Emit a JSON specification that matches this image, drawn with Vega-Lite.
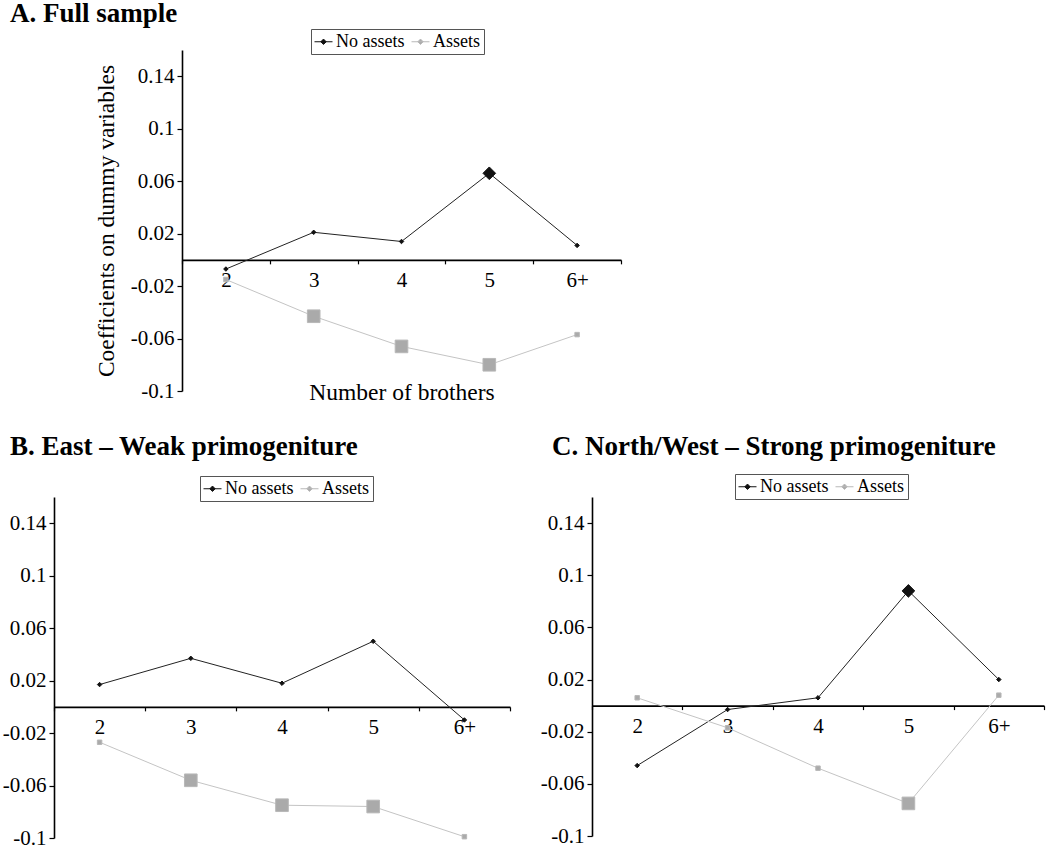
{
  "$schema": "https://vega.github.io/schema/vega-lite/v6.json",
  "autosize": {"type": "none"},
  "padding": {"left": 54, "top": 50, "right": 996, "bottom": 795},
  "background": "white",
  "datasets": {
    "d": [
      {"panel": "A", "series": "No assets", "brothers": "2", "value": -0.007, "sig": "no"},
      {"panel": "A", "series": "No assets", "brothers": "3", "value": 0.021, "sig": "no"},
      {"panel": "A", "series": "No assets", "brothers": "4", "value": 0.014, "sig": "no"},
      {"panel": "A", "series": "No assets", "brothers": "5", "value": 0.066, "sig": "yes"},
      {"panel": "A", "series": "No assets", "brothers": "6+", "value": 0.011, "sig": "no"},
      {"panel": "A", "series": "Assets", "brothers": "2", "value": -0.015, "sig": "no"},
      {"panel": "A", "series": "Assets", "brothers": "3", "value": -0.043, "sig": "yes"},
      {"panel": "A", "series": "Assets", "brothers": "4", "value": -0.066, "sig": "yes"},
      {"panel": "A", "series": "Assets", "brothers": "5", "value": -0.080, "sig": "yes"},
      {"panel": "A", "series": "Assets", "brothers": "6+", "value": -0.057, "sig": "no"},
      {"panel": "B", "series": "No assets", "brothers": "2", "value": 0.017, "sig": "no"},
      {"panel": "B", "series": "No assets", "brothers": "3", "value": 0.037, "sig": "no"},
      {"panel": "B", "series": "No assets", "brothers": "4", "value": 0.018, "sig": "no"},
      {"panel": "B", "series": "No assets", "brothers": "5", "value": 0.050, "sig": "no"},
      {"panel": "B", "series": "No assets", "brothers": "6+", "value": -0.010, "sig": "no"},
      {"panel": "B", "series": "Assets", "brothers": "2", "value": -0.027, "sig": "no"},
      {"panel": "B", "series": "Assets", "brothers": "3", "value": -0.056, "sig": "yes"},
      {"panel": "B", "series": "Assets", "brothers": "4", "value": -0.075, "sig": "yes"},
      {"panel": "B", "series": "Assets", "brothers": "5", "value": -0.076, "sig": "yes"},
      {"panel": "B", "series": "Assets", "brothers": "6+", "value": -0.099, "sig": "no"},
      {"panel": "C", "series": "No assets", "brothers": "2", "value": -0.046, "sig": "no"},
      {"panel": "C", "series": "No assets", "brothers": "3", "value": -0.003, "sig": "no"},
      {"panel": "C", "series": "No assets", "brothers": "4", "value": 0.006, "sig": "no"},
      {"panel": "C", "series": "No assets", "brothers": "5", "value": 0.088, "sig": "yes"},
      {"panel": "C", "series": "No assets", "brothers": "6+", "value": 0.020, "sig": "no"},
      {"panel": "C", "series": "Assets", "brothers": "2", "value": 0.006, "sig": "no"},
      {"panel": "C", "series": "Assets", "brothers": "3", "value": -0.017, "sig": "no"},
      {"panel": "C", "series": "Assets", "brothers": "4", "value": -0.048, "sig": "no"},
      {"panel": "C", "series": "Assets", "brothers": "5", "value": -0.075, "sig": "yes"},
      {"panel": "C", "series": "Assets", "brothers": "6+", "value": 0.008, "sig": "no"}
    ],
    "empty": []
  },
  "config": {
    "view": {"stroke": null},
    "font": "Liberation Serif",
    "axis": {
      "domainColor": "black", "domainWidth": 1.6, "tickColor": "black", "tickWidth": 1.2,
      "labelColor": "black", "labelFont": "Liberation Serif", "labelFontSize": 21,
      "titleFont": "Liberation Serif", "titleFontSize": 23.5, "titleFontWeight": "normal", "titleColor": "black",
      "grid": false
    },
    "axisX": {"tickSize": 4, "labelPadding": 6, "labelAngle": 0},
    "axisY": {"tickSize": 5, "labelPadding": 3},
    "title": {"font": "Liberation Serif", "fontSize": 27, "fontWeight": "bold", "color": "black", "anchor": "start", "frame": "group", "baseline": "alphabetic"},
    "legend": {
      "orient": "none", "direction": "horizontal", "title": null,
      "symbolType": "M-1,0H1M0,-0.3L0.3,0L0,0.3L-0.3,0Z",
      "symbolSize": 324, "labelFont": "Liberation Serif", "labelFontSize": 18, "labelColor": "black",
      "strokeColor": "#555", "fillColor": "white", "padding": 3, "columnPadding": 4, "labelOffset": 3,
      "symbolStrokeWidth": 1
    }
  },
  "columns": 2,
  "spacing": {"row": 106, "column": 82},
  "bounds": "flush",
  "resolve": {"scale": {"x": "independent", "y": "independent", "fill": "independent", "stroke": "independent", "size": "independent"}, "legend": {"fill": "independent", "stroke": "independent", "size": "independent"}},
  "concat": [
    {
      "width": 456, "height": 341,
      "data": {"name": "d"},
      "transform": [{"filter": "datum.panel === 'A'"}],
      "title": {"text": "A. Full sample", "dx": -44, "offset": 1},
      "encoding": {
        "x": {"field": "brothers", "type": "ordinal", "sort": ["2", "3", "4", "5", "6+"], "bandPosition": 0.5,
              "scale": {"type": "band", "paddingInner": 0, "paddingOuter": 0, "range": [128, 567]},
              "axis": {"offset": -131.15, "tickBand": "extent", "title": "Number of brothers", "titleY": 140, "titleBaseline": "alphabetic"}},
        "y": {"field": "value", "type": "quantitative", "scale": {"domain": [-0.1, 0.16], "nice": false, "zero": false},
              "axis": {"offset": -128, "values": [-0.1, -0.06, -0.02, 0.02, 0.06, 0.1, 0.14], "labelExpr": "toString(datum.value)", "title": "Coefficients on dummy variables", "titlePadding": 12}}
      },
      "layer": [
        {"mark": {"type": "line", "strokeWidth": 1},
         "encoding": {"detail": {"field": "series", "type": "nominal"},
                      "stroke": {"condition": {"test": "datum.series === 'No assets'", "value": "#222222"}, "value": "#c4c4c4"}}},
        {"mark": {"type": "point", "filled": true, "opacity": 1, "strokeWidth": 1},
         "encoding": {
           "fill": {"field": "series", "type": "nominal", "scale": {"domain": ["No assets", "Assets"], "range": ["#111111", "#aaaaaa"]},
                    "legend": {"legendX": 257, "legendY": -21}},
           "stroke": {"field": "series", "type": "nominal", "scale": {"domain": ["No assets", "Assets"], "range": ["#111111", "#b8b8b8"]},
                      "legend": {"legendX": 257, "legendY": -21}},
           "shape": {"condition": {"test": "datum.series === 'No assets'", "value": "diamond"}, "value": "square"},
           "size": {"field": "sig", "type": "ordinal", "scale": {"domain": ["no", "yes"], "range": [20, 160]}, "legend": null}
         }}
      ]
    },
    {"width": 452, "height": 341, "data": {"name": "empty"}, "mark": {"type": "point", "opacity": 0}},
    {
      "width": 456, "height": 341,
      "data": {"name": "d"},
      "transform": [{"filter": "datum.panel === 'B'"}],
      "title": {"text": "B. East – Weak primogeniture", "dx": -44, "offset": 15},
      "encoding": {
        "x": {"field": "brothers", "type": "ordinal", "sort": ["2", "3", "4", "5", "6+"], "bandPosition": 0.5,
              "scale": {"type": "band", "paddingInner": 0, "paddingOuter": 0},
              "axis": {"offset": -131.15, "tickBand": "extent", "title": null}},
        "y": {"field": "value", "type": "quantitative", "scale": {"domain": [-0.1, 0.16], "nice": false, "zero": false},
              "axis": {"values": [-0.1, -0.06, -0.02, 0.02, 0.06, 0.1, 0.14], "labelExpr": "toString(datum.value)", "title": null}}
      },
      "layer": [
        {"mark": {"type": "line", "strokeWidth": 1},
         "encoding": {"detail": {"field": "series", "type": "nominal"},
                      "stroke": {"condition": {"test": "datum.series === 'No assets'", "value": "#222222"}, "value": "#c4c4c4"}}},
        {"mark": {"type": "point", "filled": true, "opacity": 1, "strokeWidth": 1},
         "encoding": {
           "fill": {"field": "series", "type": "nominal", "scale": {"domain": ["No assets", "Assets"], "range": ["#111111", "#aaaaaa"]},
                    "legend": {"legendX": 146, "legendY": -21}},
           "stroke": {"field": "series", "type": "nominal", "scale": {"domain": ["No assets", "Assets"], "range": ["#111111", "#b8b8b8"]},
                      "legend": {"legendX": 146, "legendY": -21}},
           "shape": {"condition": {"test": "datum.series === 'No assets'", "value": "diamond"}, "value": "square"},
           "size": {"field": "sig", "type": "ordinal", "scale": {"domain": ["no", "yes"], "range": [20, 160]}, "legend": null}
         }}
      ]
    },
    {
      "width": 452, "height": 339,
      "data": {"name": "d"},
      "transform": [{"filter": "datum.panel === 'C'"}],
      "title": {"text": "C. North/West – Strong primogeniture", "dx": -40, "offset": 13},
      "encoding": {
        "x": {"field": "brothers", "type": "ordinal", "sort": ["2", "3", "4", "5", "6+"], "bandPosition": 0.5,
              "scale": {"type": "band", "paddingInner": 0, "paddingOuter": 0},
              "axis": {"offset": -130.4, "tickBand": "extent", "title": null}},
        "y": {"field": "value", "type": "quantitative", "scale": {"domain": [-0.1, 0.16], "nice": false, "zero": false},
              "axis": {"values": [-0.1, -0.06, -0.02, 0.02, 0.06, 0.1, 0.14], "labelExpr": "toString(datum.value)", "title": null}}
      },
      "layer": [
        {"mark": {"type": "line", "strokeWidth": 1},
         "encoding": {"detail": {"field": "series", "type": "nominal"},
                      "stroke": {"condition": {"test": "datum.series === 'No assets'", "value": "#222222"}, "value": "#c4c4c4"}}},
        {"mark": {"type": "point", "filled": true, "opacity": 1, "strokeWidth": 1},
         "encoding": {
           "fill": {"field": "series", "type": "nominal", "scale": {"domain": ["No assets", "Assets"], "range": ["#111111", "#aaaaaa"]},
                    "legend": {"legendX": 143, "legendY": -23}},
           "stroke": {"field": "series", "type": "nominal", "scale": {"domain": ["No assets", "Assets"], "range": ["#111111", "#b8b8b8"]},
                      "legend": {"legendX": 143, "legendY": -23}},
           "shape": {"condition": {"test": "datum.series === 'No assets'", "value": "diamond"}, "value": "square"},
           "size": {"field": "sig", "type": "ordinal", "scale": {"domain": ["no", "yes"], "range": [20, 160]}, "legend": null}
         }}
      ]
    }
  ]
}
